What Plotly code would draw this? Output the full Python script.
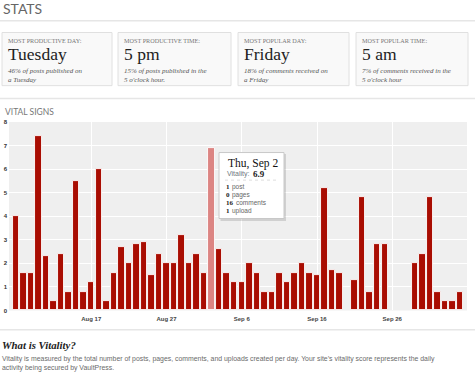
import plotly.graph_objects as go
import pandas as pd

# ---------------- data ----------------
start_date = "2010-08-07"
vitality = [4.0, 1.6, 1.6, 7.4, 2.3, 0.4, 2.4, 0.8, 5.5, 0.8,
            1.2, 6.0, 0.4, 1.6, 2.7, 2.0, 2.8, 2.9, 1.5, 2.4,
            2.0, 2.0, 3.2, 2.0, 2.4, 1.6, 6.9, 2.6, 1.6, 1.2,
            1.2, 2.0, 1.6, 0.8, 0.8, 1.6, 1.2, 1.6, 2.0, 1.6,
            1.5, 5.2, 1.7, 1.6, None, 1.3, 4.8, 0.8, 2.8, 2.8,
            None, None, None, 2.0, 2.4, 4.8, 0.8, 0.4, 0.4, 0.8]
dates = pd.date_range(start_date, periods=len(vitality), freq="D")
highlight_date = pd.Timestamp("2010-09-02")

tick_dates = ["2010-08-17", "2010-08-27", "2010-09-06", "2010-09-16", "2010-09-26"]
tick_labels = ["Aug 17", "Aug 27", "Sep 6", "Sep 16", "Sep 26"]
y_ticks = [0, 1, 2, 3, 4, 5, 6, 7, 8]

card_labels = ["MOST PRODUCTIVE DAY:", "MOST PRODUCTIVE TIME:",
               "MOST POPULAR DAY:", "MOST POPULAR TIME:"]
card_values = ["Tuesday", "5 pm", "Friday", "5 am"]
card_notes = ["46% of posts published on<br>a Tuesday",
              "15% of posts published in the<br>5 o'clock hour.",
              "18% of comments received on<br>a Friday",
              "7% of comments received in the<br>5 o'clock hour"]

tip_title = "Thu, Sep 2"
tip_score = "6.9"
tip_counts = ["1", "0", "16", "1"]
tip_items = ["post", "pages", "comments", "upload"]

# ---------------- layout helpers ----------------
W, H = 475, 374
def X(px):
    return px / W
def Y(py):
    return 1 - py / H

SERIF = "Liberation Serif"
SANS = "Liberation Sans"

bar_colors = ["#dc8583" if d == highlight_date else "#a90d02" for d in dates]

fig = go.Figure()
fig.add_trace(go.Bar(
    x=dates, y=vitality,
    width=0.86 * 86400000,
    marker=dict(color=bar_colors, line=dict(color="white", width=0.9)),
    hoverinfo="skip",
))

x0 = pd.Timestamp("2010-08-07") - pd.Timedelta(hours=22.3)
x1 = pd.Timestamp("2010-10-05") + pd.Timedelta(hours=22.3)

fig.update_layout(
    width=W, height=H, autosize=False,
    margin=dict(l=0, r=0, t=0, b=0),
    paper_bgcolor="white", plot_bgcolor="#efefef",
    showlegend=False, bargap=0,
    xaxis=dict(domain=[X(9), X(467)], type="date", range=[x0, x1],
               tickvals=tick_dates, ticktext=tick_labels,
               showgrid=True, gridcolor="white", gridwidth=1,
               zeroline=False, showline=False, ticks="", ticklabelstandoff=4,
               tickfont=dict(family=SANS, size=6, color="#444", weight="bold")),
    yaxis=dict(domain=[Y(312.5), Y(121)], range=[0, 8],
               tickvals=y_ticks, showgrid=True, gridcolor="white", gridwidth=1,
               zeroline=False, showline=False, ticks="", ticklabelstandoff=1,
               tickfont=dict(family=SANS, size=6, color="#333", weight="bold")),
)

shapes = []
ann = []

# header
ann.append(dict(x=X(1), y=Y(6), text="STATS", xanchor="left", yanchor="middle",
                font=dict(family="Lato", size=14, color="#666")))
for py in (18, 97, 332):
    shapes.append(dict(type="line", xref="paper", yref="paper",
                       x0=0, x1=1, y0=Y(py), y1=Y(py),
                       line=dict(color="#e6e6e6", width=1.5)))

# stat cards
card_x = [(2, 112), (118, 231), (238, 349), (356, 468)]
for (l, r), lab, val, note in zip(card_x, card_labels, card_values, card_notes):
    shapes.append(dict(type="rect", xref="paper", yref="paper",
                       x0=X(l), x1=X(r), y0=Y(84), y1=Y(30),
                       fillcolor="#f9f9f9", line=dict(color="#e0e0e0", width=1)))
    ann.append(dict(x=X(l + 4), y=Y(38), text=lab, xanchor="left", yanchor="middle",
                    font=dict(family=SERIF, size=6.2, color="#777")))
    ann.append(dict(x=X(l + 3.5), y=Y(51.5), text=val, xanchor="left", yanchor="middle",
                    font=dict(family=SERIF, size=17.5, color="#222")))
    ann.append(dict(x=X(l + 4), y=Y(63), text="<i>" + note + "</i>", xanchor="left",
                    yanchor="top", align="left",
                    font=dict(family=SERIF, size=7, color="#555")))

# section title
ann.append(dict(x=X(2.5), y=Y(110.5), text="VITAL SIGNS", xanchor="left", yanchor="middle",
                font=dict(family="Lato", size=8.5, color="#777")))

# tooltip
shapes.append(dict(type="rect", xref="paper", yref="paper", layer="above",
                   x0=X(220.5), x1=X(286), y0=Y(221.5), y1=Y(153.5),
                   fillcolor="rgba(0,0,0,0.13)", line=dict(width=0)))
shapes.append(dict(type="rect", xref="paper", yref="paper", layer="above",
                   x0=X(219), x1=X(284), y0=Y(219), y1=Y(152),
                   fillcolor="white", line=dict(color="#c8c8c8", width=1)))
shapes.append(dict(type="line", xref="paper", yref="paper", layer="above",
                   x0=X(225), x1=X(278), y0=Y(180), y1=Y(180),
                   line=dict(color="#dddddd", width=1, dash="dot")))
ann.append(dict(x=X(225.5), y=Y(163), text=tip_title, xanchor="left", yanchor="middle",
                font=dict(family=SERIF, size=11.5, color="#111")))
ann.append(dict(x=X(225), y=Y(174), text="Vitality:", xanchor="left", yanchor="middle",
                font=dict(family=SANS, size=7, color="#6d7780")))
ann.append(dict(x=X(251), y=Y(174), text="<b>" + tip_score + "</b>", xanchor="left",
                yanchor="middle", font=dict(family=SERIF, size=9, color="#222")))
tip_rows = [187.3, 195.2, 203.1, 211.0]
for yy, c, it in zip(tip_rows, tip_counts, tip_items):
    ann.append(dict(x=X(223.5), y=Y(yy), text="<b>" + c + "</b>", xanchor="left",
                    yanchor="middle", font=dict(family=SERIF, size=7, color="#222")))
    ann.append(dict(x=X(226 + 3.8 * len(c)), y=Y(yy), text=it, xanchor="left",
                    yanchor="middle", font=dict(family=SANS, size=6.5, color="#666")))

# footer
ann.append(dict(x=X(0), y=Y(348), text="<b><i>What is Vitality?</i></b>", xanchor="left",
                yanchor="middle", font=dict(family=SERIF, size=10.8, color="#222")))
ann.append(dict(x=X(0), y=Y(355.5), xanchor="left", yanchor="top", align="left",
                text=("Vitality is measured by the total number of posts, pages, comments, and uploads "
                      "created per day. Your site\u2019s vitality score represents the daily<br>"
                      "activity being secured by VaultPress."),
                font=dict(family=SANS, size=6.9, color="#6a6a6a")))

for a in ann:
    a.update(xref="paper", yref="paper", showarrow=False)

fig.update_layout(shapes=shapes, annotations=ann)
fig.write_html("out.html", config={"displayModeBar": False},
               post_script="document.body.style.margin='0';document.body.style.overflow='hidden';")
